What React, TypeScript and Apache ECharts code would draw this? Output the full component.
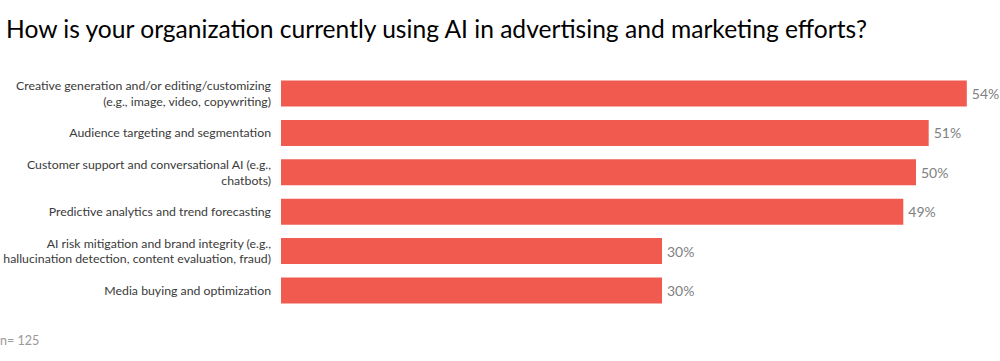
import React, { useEffect, useRef } from "react";
import * as echarts from "echarts";

const categories = [
  "Creative generation and/or editing/customizing\n(e.g., image, video, copywriting)",
  "Audience targeting and segmentation",
  "Customer support and conversational AI (e.g.,\nchatbots)",
  "Predictive analytics and trend forecasting",
  "AI risk mitigation and brand integrity (e.g.,\nhallucination detection, content evaluation, fraud)",
  "Media buying and optimization",
];
const values = [54, 51, 50, 49, 30, 30];
const titleText = "How is your organization currently using AI in advertising and marketing efforts?";
const noteText = "n= 125";

export default function App() {
  const ref = useRef<HTMLDivElement>(null);
  useEffect(() => {
    const chart = echarts.init(ref.current!, null, { renderer: "svg" });
    chart.setOption({
      animation: false,
      backgroundColor: "#ffffff",
      title: {
        text: titleText,
        left: 1,
        top: 11,
        textStyle: { fontFamily: "Lato", fontSize: 24.6, fontWeight: "normal", color: "#000" },
      },
      graphic: [
        {
          type: "text",
          left: 0,
          top: 334,
          style: { text: noteText, fontFamily: "Lato", fontSize: 12.5, fill: "#999" },
        },
      ],
      grid: {
        left: 281,
        right: 7.8,
        top: 73.8,
        bottom: 50.8,
        containLabel: false,
        outerBoundsMode: "none",
      },
      xAxis: {
        type: "value",
        min: 0,
        max: 56,
        show: false,
      },
      yAxis: {
        type: "category",
        inverse: true,
        data: categories,
        axisLine: { show: false },
        axisTick: { show: false },
        axisLabel: {
          margin: 10,
          fontFamily: "Lato",
          fontSize: 12.3,
          lineHeight: 15.5,
          color: "#3a3a3a",
          align: "right",
        },
      },
      series: [
        {
          type: "bar",
          data: values,
          barWidth: 26,
          itemStyle: { color: "#F05A4F" },
          label: {
            show: true,
            position: "right",
            distance: 5,
            formatter: "{c}%",
            fontFamily: "Lato",
            fontSize: 14,
            color: "#808080",
          },
        },
      ],
    });
    return () => chart.dispose();
  }, []);
  return <div ref={ref} style={{ position: "absolute", left: 0, top: 0, width: 1000, height: 361 }} />;
}
